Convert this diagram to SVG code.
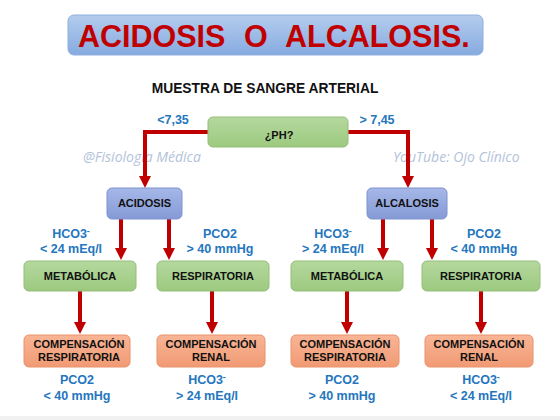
<svg xmlns="http://www.w3.org/2000/svg" width="560" height="420" viewBox="0 0 560 420">
<defs>
<linearGradient id="gTitle" x1="0" y1="0" x2="0" y2="1"><stop offset="0" stop-color="#B4CDEE"/><stop offset="1" stop-color="#86AAE0"/></linearGradient>
<linearGradient id="gGreen" x1="0" y1="0" x2="0" y2="1"><stop offset="0" stop-color="#B5D89E"/><stop offset="1" stop-color="#9CC97F"/></linearGradient>
<linearGradient id="gBlue" x1="0" y1="0" x2="0" y2="1"><stop offset="0" stop-color="#A6B8E8"/><stop offset="1" stop-color="#8599D6"/></linearGradient>
<linearGradient id="gSalmon" x1="0" y1="0" x2="0" y2="1"><stop offset="0" stop-color="#F8B595"/><stop offset="1" stop-color="#F19A74"/></linearGradient>
<marker id="ah" viewBox="0 0 12 12" refX="2" refY="6" markerWidth="12" markerHeight="12" markerUnits="userSpaceOnUse" orient="auto"><path d="M0,0 L12,6 L0,12 z" fill="#C00000"/></marker>
</defs>
<style>
.box{stroke-width:1}
.green{fill:url(#gGreen);stroke:#93BE78}
.blue{fill:url(#gBlue);stroke:#7F93CF}
.salmon{fill:url(#gSalmon);stroke:#E8926C}
.bt{font-family:"Liberation Sans",Arial,sans-serif;font-weight:bold;font-size:11px;fill:#111;text-anchor:middle}
.lbl{font-family:"Liberation Sans",Arial,sans-serif;font-weight:bold;font-size:12.5px;fill:#2476BE;text-anchor:middle}
.wm{font-family:"Open Sans","DejaVu Sans",sans-serif;font-style:italic;font-size:14px;fill:#B3C3DA}
.con{fill:none;stroke:#C00000;stroke-width:4;marker-end:url(#ah)}
.sup{font-size:9px}
</style>
<rect x="0" y="0" width="560" height="420" fill="#FFFFFF"/>
<rect x="0" y="416" width="560" height="4" fill="#F1F1F1"/>
<g id="title">
<rect x="68" y="15" width="415" height="40" rx="6" fill="url(#gTitle)" stroke="#8EAEDD"/>
<text font-family="Liberation Sans,Arial,sans-serif" font-weight="bold" font-size="30.5" fill="#C00000" y="47"><tspan x="78">ACIDOSIS</tspan><tspan x="244">O</tspan><tspan x="285">ALCALOSIS.</tspan></text>
</g>
<text id="subtitle" x="265" y="93" text-anchor="middle" font-family="Liberation Sans,Arial,sans-serif" font-weight="bold" font-size="13.8" fill="#111">MUESTRA DE SANGRE ARTERIAL</text>
<g id="watermarks">
<text class="wm" x="83" y="162">@Fisiología Médica</text>
<text class="wm" x="393" y="162">YouTube: Ojo Clínico</text>
</g>
<g id="connectors">
<path class="con" d="M208,132 H145 V178"/>
<path class="con" d="M348,132 H408 V178"/>
<path class="con" d="M121,219 V250"/>
<path class="con" d="M169,219 V250"/>
<path class="con" d="M383,219 V250"/>
<path class="con" d="M432,219 V250"/>
<path class="con" d="M80,291 V324"/>
<path class="con" d="M212,291 V324"/>
<path class="con" d="M347,291 V324"/>
<path class="con" d="M481,291 V324"/>
</g>
<g id="labels">
<text class="lbl" x="173" y="124" font-size="13">&lt;7,35</text>
<text class="lbl" x="377" y="124" font-size="13">&gt; 7,45</text>
<text class="lbl" x="71" y="238">HCO3<tspan class="sup" dy="-4">-</tspan></text>
<text class="lbl" x="71" y="253">&lt; 24 mEq/l</text>
<text class="lbl" x="220" y="238">PCO2</text>
<text class="lbl" x="220" y="253">&gt; 40 mmHg</text>
<text class="lbl" x="333" y="238">HCO3<tspan class="sup" dy="-4">-</tspan></text>
<text class="lbl" x="333" y="253">&gt; 24 mEq/l</text>
<text class="lbl" x="484" y="238">PCO2</text>
<text class="lbl" x="484" y="253">&lt; 40 mmHg</text>
<text class="lbl" x="77" y="384">PCO2</text>
<text class="lbl" x="77" y="400">&lt; 40 mmHg</text>
<text class="lbl" x="207" y="384">HCO3<tspan class="sup" dy="-4">-</tspan></text>
<text class="lbl" x="207" y="400">&gt; 24 mEq/l</text>
<text class="lbl" x="342" y="384">PCO2</text>
<text class="lbl" x="342" y="400">&gt; 40 mmHg</text>
<text class="lbl" x="481" y="384">HCO3<tspan class="sup" dy="-4">-</tspan></text>
<text class="lbl" x="481" y="400">&lt; 24 mEq/l</text>
</g>
<g id="ph"><rect class="box green" x="208" y="117" width="140" height="30" rx="5"/><text class="bt" x="279" y="139" font-size="12.5">¿PH?</text></g>
<g id="acidosis"><rect class="box blue" x="107" y="188" width="75" height="31" rx="5"/><text class="bt" x="144.5" y="207">ACIDOSIS</text></g>
<g id="alcalosis"><rect class="box blue" x="367" y="188" width="80" height="31" rx="5"/><text class="bt" x="407" y="207">ALCALOSIS</text></g>
<g id="metabolica-a"><rect class="box green" x="24" y="261" width="112" height="30" rx="5"/><text class="bt" x="80" y="280">METABÓLICA</text></g>
<g id="respiratoria-a"><rect class="box green" x="157" y="261" width="112" height="30" rx="5"/><text class="bt" x="213" y="280">RESPIRATORIA</text></g>
<g id="metabolica-b"><rect class="box green" x="291" y="261" width="112" height="30" rx="5"/><text class="bt" x="347" y="280">METABÓLICA</text></g>
<g id="respiratoria-b"><rect class="box green" x="422" y="261" width="118" height="30" rx="5"/><text class="bt" x="481" y="280">RESPIRATORIA</text></g>
<g id="comp-resp-a"><rect class="box salmon" x="24" y="335" width="106" height="32" rx="5"/><text class="bt" x="79" y="348">COMPENSACIÓN</text><text class="bt" x="79" y="361">RESPIRATORIA</text></g>
<g id="comp-renal-a"><rect class="box salmon" x="157" y="335" width="108" height="32" rx="5"/><text class="bt" x="211" y="348">COMPENSACIÓN</text><text class="bt" x="211" y="361">RENAL</text></g>
<g id="comp-resp-b"><rect class="box salmon" x="291" y="335" width="108" height="32" rx="5"/><text class="bt" x="345" y="348">COMPENSACIÓN</text><text class="bt" x="345" y="361">RESPIRATORIA</text></g>
<g id="comp-renal-b"><rect class="box salmon" x="425" y="335" width="108" height="32" rx="5"/><text class="bt" x="479" y="348">COMPENSACIÓN</text><text class="bt" x="479" y="361">RENAL</text></g>
</svg>
